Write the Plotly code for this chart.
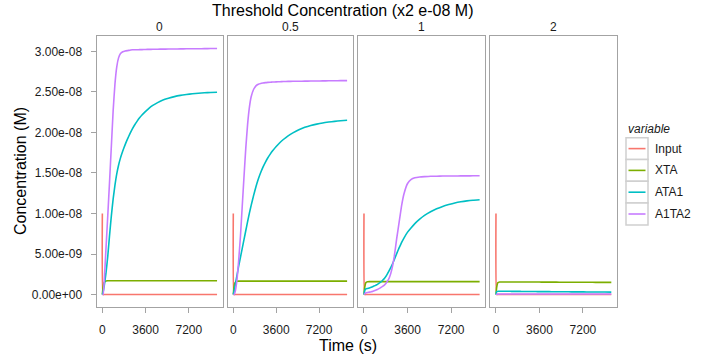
import plotly.graph_objects as go

# ---------------- data (concentrations in nM, time in s) ----------------
panels = ["0", "0.5", "1", "2"]
variables = ["Input", "XTA", "ATA1", "A1TA2"]
colors = {"Input": "#F8766D", "XTA": "#7CAE00", "ATA1": "#00BFC4", "A1TA2": "#C77CFF"}

time_s = [0, 60, 150, 300, 450, 600, 750, 900, 1050, 1200, 1350, 1500, 1700, 1900,
          2100, 2300, 2500, 2700, 2900, 3100, 3300, 3600, 3900, 4200, 4600, 5000,
          5500, 6000, 6500, 7000, 7500, 8000, 8500, 9000, 9550]

input_nM = [10, 0, 0, 0, 0, 0, 0, 0, 0, 0, 0, 0, 0, 0, 0, 0, 0, 0, 0, 0, 0, 0, 0, 0,
            0, 0, 0, 0, 0, 0, 0, 0, 0, 0, 0]

# threshold 0
xta_0 = [0, 0.9, 1.5, 1.68, 1.7, 1.7, 1.7, 1.7, 1.7, 1.7, 1.7, 1.7, 1.7, 1.7, 1.7, 1.7,
         1.7, 1.7, 1.7, 1.7, 1.7, 1.7, 1.7, 1.7, 1.7, 1.7, 1.7, 1.7, 1.7, 1.7, 1.7, 1.7,
         1.7, 1.7, 1.7]
ata1_0 = [0, 0.3, 1.0, 2.6, 4.7, 7.3, 9.7, 11.8, 13.5, 14.9, 15.95, 16.8, 17.7, 18.5,
          19.2, 19.85, 20.45, 20.95, 21.4, 21.8, 22.15, 22.6, 23.0, 23.33, 23.68, 23.97,
          24.22, 24.42, 24.57, 24.68, 24.77, 24.84, 24.89, 24.93, 24.96]
a1ta2_0 = [0, 0, 1.5, 5.6, 9.7, 13.9, 18.3, 22.7, 26.0, 28.1, 29.2, 29.7, 29.95, 30.05,
           30.1, 30.15, 30.2, 30.2, 30.2, 30.22, 30.22, 30.24, 30.25, 30.26, 30.27, 30.28,
           30.29, 30.3, 30.31, 30.32, 30.33, 30.33, 30.34, 30.35, 30.35]

# threshold 0.5
xta_05 = [0, 0.9, 1.45, 1.63, 1.65, 1.65, 1.65, 1.65, 1.65, 1.65, 1.65, 1.65, 1.65, 1.65,
          1.65, 1.65, 1.65, 1.65, 1.65, 1.65, 1.65, 1.65, 1.65, 1.65, 1.65, 1.65, 1.65,
          1.65, 1.65, 1.65, 1.65, 1.65, 1.65, 1.65, 1.65]
ata1_05 = [0, 0.4, 1.1, 2.3, 3.5, 4.6, 5.7, 6.8, 7.9, 9.0, 10.05, 11.0, 12.2, 13.3, 14.25,
           15.05, 15.75, 16.35, 16.88, 17.33, 17.73, 18.27, 18.73, 19.13, 19.58, 19.95,
           20.33, 20.63, 20.86, 21.03, 21.17, 21.28, 21.37, 21.44, 21.5]
a1ta2_05 = [0, 0, 0.3, 1.7, 4.2, 7.2, 10.9, 14.6, 18.1, 21.0, 23.1, 24.4, 25.3, 25.75,
            25.95, 26.05, 26.1, 26.15, 26.18, 26.2, 26.22, 26.24, 26.26, 26.28, 26.3,
            26.31, 26.32, 26.33, 26.34, 26.35, 26.36, 26.37, 26.38, 26.39, 26.4]

# threshold 1
xta_1 = [0, 0.9, 1.45, 1.58, 1.6, 1.6, 1.6, 1.6, 1.6, 1.6, 1.6, 1.6, 1.6, 1.6, 1.6, 1.6,
         1.6, 1.6, 1.6, 1.6, 1.6, 1.6, 1.6, 1.6, 1.6, 1.6, 1.6, 1.6, 1.6, 1.6, 1.6, 1.6,
         1.6, 1.6, 1.6]
ata1_1 = [0, 0.5, 0.7, 0.75, 0.82, 0.9, 1.0, 1.1, 1.2, 1.35, 1.5, 1.7, 2.0, 2.45, 3.0,
          3.6, 4.3, 5.05, 5.75, 6.4, 6.97, 7.7, 8.25, 8.75, 9.3, 9.77, 10.22, 10.58, 10.87,
          11.1, 11.3, 11.45, 11.56, 11.64, 11.7]
a1ta2_1 = [0, 0.1, 0.2, 0.25, 0.3, 0.35, 0.42, 0.5, 0.6, 0.7, 0.82, 0.97, 1.2, 1.55, 2.1,
           3.1, 4.7, 6.9, 8.9, 10.9, 12.4, 13.7, 14.2, 14.4, 14.5, 14.55, 14.6, 14.6,
           14.62, 14.62, 14.63, 14.64, 14.64, 14.65, 14.65]

# threshold 2
xta_2 = [0, 0.9, 1.45, 1.55, 1.55, 1.55, 1.55, 1.55, 1.55, 1.55, 1.55, 1.55, 1.55, 1.55,
         1.55, 1.55, 1.55, 1.54, 1.54, 1.54, 1.54, 1.54, 1.53, 1.53, 1.53, 1.53, 1.52,
         1.52, 1.52, 1.51, 1.51, 1.51, 1.5, 1.5, 1.5]
ata1_2 = [0, 0.38, 0.4, 0.4, 0.4, 0.4, 0.4, 0.4, 0.4, 0.4, 0.39, 0.39, 0.39, 0.39, 0.38,
          0.38, 0.38, 0.38, 0.37, 0.37, 0.37, 0.36, 0.36, 0.36, 0.35, 0.35, 0.34, 0.34,
          0.33, 0.33, 0.32, 0.32, 0.31, 0.31, 0.3]
a1ta2_2 = [0, 0.03, 0.05, 0.06, 0.06, 0.06, 0.06, 0.06, 0.06, 0.06, 0.06, 0.06, 0.06,
           0.06, 0.06, 0.06, 0.06, 0.06, 0.06, 0.06, 0.06, 0.06, 0.06, 0.06, 0.06, 0.06,
           0.06, 0.06, 0.06, 0.06, 0.06, 0.06, 0.06, 0.06, 0.06]

series = {
    "0": {"Input": input_nM, "XTA": xta_0, "ATA1": ata1_0, "A1TA2": a1ta2_0},
    "0.5": {"Input": input_nM, "XTA": xta_05, "ATA1": ata1_05, "A1TA2": a1ta2_05},
    "1": {"Input": input_nM, "XTA": xta_1, "ATA1": ata1_1, "A1TA2": a1ta2_1},
    "2": {"Input": input_nM, "XTA": xta_2, "ATA1": ata1_2, "A1TA2": a1ta2_2},
}

x_ticks = [0, 3600, 7200]
y_tickvals = [0, 5e-9, 1e-8, 1.5e-8, 2e-8, 2.5e-8, 3e-8]
y_ticktext = ["0.00e+00", "5.00e-09", "1.00e-08", "1.50e-08", "2.00e-08", "2.50e-08", "3.00e-08"]

# ---------------- layout ----------------
W, H = 720, 360


def fx(px):
    return px / W


def fy(py):
    return 1 - py / H


FONT = "Liberation Sans, Arial, sans-serif"
x_dom_px = [(96.7, 222.7), (227.7, 352.7), (358.3, 485.3), (490.3, 617.0)]
y_dom_px = (36.0, 306.7)
frame = "#a3a3a3"
txt = "#1a1a1a"

fig = go.Figure()
for i, p in enumerate(panels):
    ax = "" if i == 0 else str(i + 1)
    for v in variables:
        fig.add_trace(go.Scatter(
            x=time_s, y=[c * 1e-9 for c in series[p][v]],
            mode="lines", name=v, legendgroup=v, showlegend=False,
            line=dict(color=colors[v], width=1.6, shape="spline", smoothing=0.4),
            xaxis="x" + ax, yaxis="y" + ax,
        ))

layout = dict(
    width=W, height=H,
    margin=dict(l=0, r=0, t=0, b=0),
    paper_bgcolor="white", plot_bgcolor="white",
    font=dict(family=FONT, color=txt, size=12),
    showlegend=False,
    annotations=[],
    shapes=[],
)
y0, y1 = y_dom_px
for i, p in enumerate(panels):
    suf = "" if i == 0 else str(i + 1)
    xa, xb = x_dom_px[i]
    layout["xaxis" + suf] = dict(
        domain=[fx(xa), fx(xb)], range=[-470, 10020],
        tickvals=x_ticks, ticks="outside", ticklen=5, tickcolor=frame, tickwidth=1,
        ticklabelstandoff=7,
        showline=True, linecolor=frame, linewidth=1.3, mirror=True,
        showgrid=False, zeroline=False, tickfont=dict(size=12, color=txt),
        anchor="y" + suf, fixedrange=True,
    )
    layout["yaxis" + suf] = dict(
        domain=[fy(y1), fy(y0)], range=[-1.5e-9, 3.19e-8],
        tickvals=y_tickvals, ticktext=y_ticktext,
        ticks="outside" if i == 0 else "", ticklen=5, tickcolor=frame, tickwidth=1,
        ticklabelstandoff=6,
        showticklabels=(i == 0),
        showline=True, linecolor=frame, linewidth=1.3, mirror=True,
        showgrid=False, zeroline=False, tickfont=dict(size=12, color=txt),
        anchor="x" + suf, fixedrange=True,
    )
    layout["annotations"].append(dict(
        text=p, x=fx((xa + xb) / 2), y=fy(27), xref="paper", yref="paper",
        showarrow=False, font=dict(size=12, color=txt), xanchor="center", yanchor="middle",
    ))

layout["annotations"] += [
    dict(text="Threshold Concentration (x2 e-08 M)", x=fx(342), y=fy(10),
         xref="paper", yref="paper", showarrow=False, xanchor="center", yanchor="middle",
         font=dict(size=16, color="#000000")),
    dict(text="Time (s)", x=fx(348), y=fy(345), xref="paper", yref="paper",
         showarrow=False, xanchor="center", yanchor="middle", font=dict(size=16, color="#000000")),
    dict(text="Concentration (M)", x=fx(20), y=fy(171), xref="paper", yref="paper",
         showarrow=False, xanchor="center", yanchor="middle", textangle=-90,
         font=dict(size=16, color="#000000")),
    dict(text="<i>variable</i>", x=fx(626), y=fy(129), xref="paper", yref="paper",
         showarrow=False, xanchor="left", yanchor="middle", font=dict(size=12, color=txt)),
]

# legend: key boxes, line samples and labels
ROW0, ROWH = 137.7, 21.8
for k, v in enumerate(variables):
    top = ROW0 + k * ROWH
    mid = top + ROWH / 2
    layout["shapes"].append(dict(
        type="rect", xref="paper", yref="paper",
        x0=fx(626), x1=fx(648), y0=fy(top + ROWH), y1=fy(top),
        line=dict(color="#d0d0d0", width=1.5), fillcolor="white", layer="above",
    ))
    layout["shapes"].append(dict(
        type="line", xref="paper", yref="paper",
        x0=fx(628.5), x1=fx(645.5), y0=fy(mid), y1=fy(mid),
        line=dict(color=colors[v], width=1.6), layer="above",
    ))
    layout["annotations"].append(dict(
        text=v, x=fx(653), y=fy(mid), xref="paper", yref="paper",
        showarrow=False, xanchor="left", yanchor="middle", font=dict(size=12, color=txt),
    ))

fig.update_layout(**layout)
# remove the default 8px page margin so the 720x360 figure fills the window
fig.write_html("out.html", config={"displayModeBar": False},
               post_script="document.body.style.margin='0px';")
